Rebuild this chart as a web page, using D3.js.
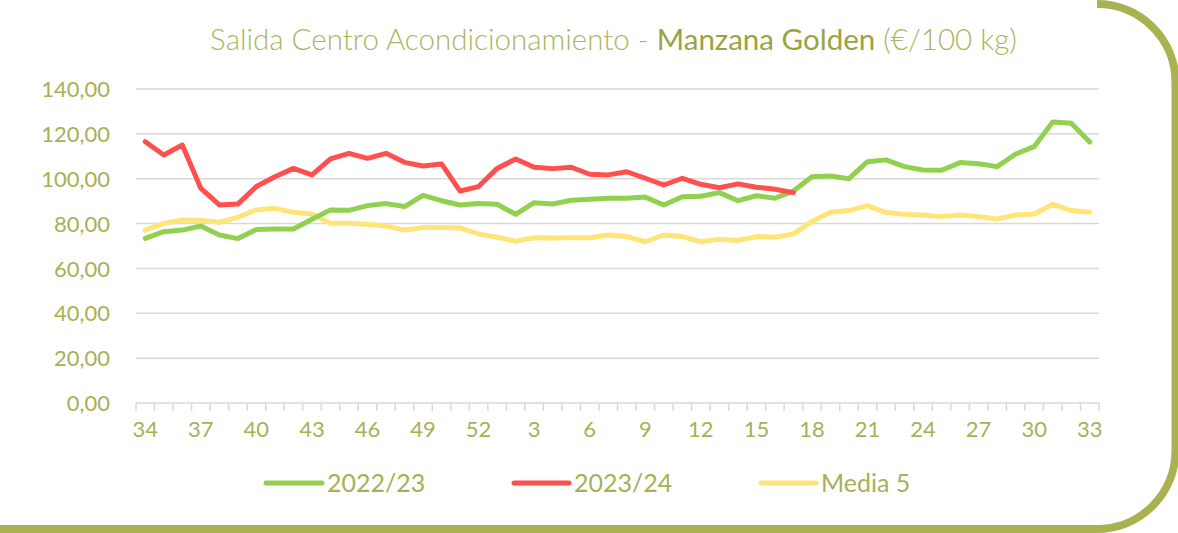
<!DOCTYPE html>
<html>
<head>
<meta charset="utf-8">
<script src="https://cdn.jsdelivr.net/npm/d3@7"></script>
<style>
  html, body { margin: 0; padding: 0; background: #ffffff; }
  svg { display: block; }
  text { font-family: Lato, "Open Sans", "Noto Sans", sans-serif; }
</style>
</head>
<body>
<svg id="chart" width="1178" height="533"></svg>
<script>
// ---- data ----
const weeks = [34,35,36,37,38,39,40,41,42,43,44,45,46,47,48,49,50,51,52,
               1,2,3,4,5,6,7,8,9,10,11,12,13,14,15,16,17,18,19,20,21,22,23,24,25,26,27,28,29,30,31,32,33];
const serie2223 = [73.4,76.4,77.1,78.9,74.9,73.3,77.4,77.6,77.6,81.9,86.1,85.9,88.0,88.9,87.6,92.6,90.2,88.3,89.0,
                   88.6,84.1,89.3,88.7,90.4,90.8,91.3,91.3,91.8,88.3,92.0,92.2,93.8,90.2,92.4,91.3,94.5,100.9,101.2,100.0,
                   107.6,108.4,105.4,103.9,103.8,107.2,106.7,105.4,111.0,114.3,125.3,124.7,116.4];
const serie2324 = [116.5,110.6,115.0,95.7,88.3,88.7,96.5,100.9,104.6,101.7,108.8,111.3,109.1,111.3,107.3,105.7,106.6,94.5,96.5,
                   104.6,108.8,105.1,104.5,105.1,102.0,101.7,103.1,100.2,97.2,100.2,97.5,96.0,97.7,96.2,95.3,93.8];
const media5 = [77.1,80.1,81.6,81.5,80.6,82.8,86.1,86.8,85.0,84.3,80.1,80.1,79.7,78.9,77.1,78.2,78.3,78.0,75.4,
                73.9,72.1,73.7,73.6,73.7,73.7,74.9,74.2,71.9,74.9,74.2,71.9,73.0,72.5,74.2,73.9,75.4,80.9,85.0,85.8,
                88.0,84.9,84.1,83.8,83.1,83.8,83.1,82.0,83.8,84.3,88.6,85.8,85.0];
const yTicks = [0,20,40,60,80,100,120,140];
const seriesNames = ["2022/23","2023/24","Media 5"];
const seriesColors = ["#92d050","#ff5050","#ffe47a"];

// ---- layout ----
const svg = d3.select("#chart");
const textColor = "#a7b056";
const pLeft = 136, pRight = 1099, pTop = 89, pBottom = 403;

const x = d3.scaleBand().domain(d3.range(weeks.length)).range([pLeft, pRight]).paddingInner(0).paddingOuter(0);
const xc = i => x(i) + x.bandwidth() / 2;
const y = d3.scaleLinear().domain([0, 140]).range([pBottom, pTop]);

// border (right + bottom, rounded)
const r = 78.5;
svg.append("path")
  .attr("d", `M1097,4 A${r},${r} 0 0 1 1175.5,82.5 L1175.5,${529 - r} A${r},${r} 0 0 1 ${1175.5 - r},529 L-5,529`)
  .attr("fill", "none")
  .attr("stroke", "#aab150")
  .attr("stroke-width", 8);

// title
const title = svg.append("text")
  .attr("x", 613.5).attr("y", 50)
  .attr("text-anchor", "middle")
  .style("font-size", "27px")
  .attr("fill", "#abb55e");
title.append("tspan").style("font-weight", 300).text("Salida Centro Acondicionamiento - ");
title.append("tspan").style("font-weight", 400).attr("fill", "#9ba33f").text("Manzana Golden");
title.append("tspan").style("font-weight", 300).text(" (€/100 kg)");
{
  const w = title.node().getComputedTextLength();
  const fs = 27 * 807 / w;
  title.style("font-size", fs + "px");
}

// gridlines
svg.append("g").selectAll("line").data(yTicks.filter(d => d > 0)).join("line")
  .attr("x1", pLeft).attr("x2", pRight)
  .attr("y1", d => y(d)).attr("y2", d => y(d))
  .attr("stroke", "#d9d9d9").attr("stroke-width", 1.5);

// y axis labels
const yAxis = svg.append("g").attr("transform", `translate(${pLeft - 26},0)`)
  .call(d3.axisLeft(y).tickValues(yTicks).tickSize(0).tickPadding(0)
    .tickFormat(d => d.toFixed(2).replace(".", ",")));
yAxis.select(".domain").remove();
yAxis.selectAll("text").attr("fill", textColor).style("font-size", "22px")
  .style("font-family", 'Lato, "Open Sans", sans-serif').attr("dy", "0.35em");

// x axis line and boundary ticks
const xg = svg.append("g");
xg.append("line").attr("x1", pLeft).attr("x2", pRight).attr("y1", pBottom).attr("y2", pBottom)
  .attr("stroke", "#d9d9d9").attr("stroke-width", 1.5);
const bounds = d3.range(weeks.length).map(i => x(i)).concat([pRight]);
xg.selectAll("line.tk").data(bounds).join("line").attr("class", "tk")
  .attr("x1", d => d).attr("x2", d => d).attr("y1", pBottom).attr("y2", pBottom + 8)
  .attr("stroke", "#d9d9d9").attr("stroke-width", 1.5);

// x labels via axis
const xAxis = svg.append("g").attr("transform", `translate(0,${pBottom})`)
  .call(d3.axisBottom(x).tickValues(d3.range(0, weeks.length, 3)).tickSize(0).tickPadding(26)
    .tickFormat(i => weeks[i]));
xAxis.select(".domain").remove();
xAxis.selectAll("text").attr("fill", textColor).style("font-size", "22px")
  .style("font-family", 'Lato, "Open Sans", sans-serif').attr("dy", "0.35em");

// lines
const line = d3.line().x((d, i) => xc(i)).y(d => y(d));
const drawSeries = [[media5, 2], [serie2223, 0], [serie2324, 1]];
drawSeries.forEach(([vals, k]) => {
  svg.append("path").datum(vals)
    .attr("d", line)
    .attr("fill", "none")
    .attr("stroke", seriesColors[k])
    .attr("stroke-width", 5)
    .attr("stroke-linejoin", "round")
    .attr("stroke-linecap", "round");
});

// legend
const legendPos = [[266, 322, 327], [514, 569, 574], [761, 816, 821]];
const lg = svg.append("g");
seriesNames.forEach((name, k) => {
  const [x1, x2, tx] = legendPos[k];
  lg.append("line").attr("x1", x1).attr("x2", x2).attr("y1", 483).attr("y2", 483)
    .attr("stroke", seriesColors[k]).attr("stroke-width", 5).attr("stroke-linecap", "round");
  lg.append("text").attr("x", tx).attr("y", 483).attr("dy", "0.35em")
    .attr("fill", textColor).style("font-size", "25px").text(name);
});
</script>
</body>
</html>
